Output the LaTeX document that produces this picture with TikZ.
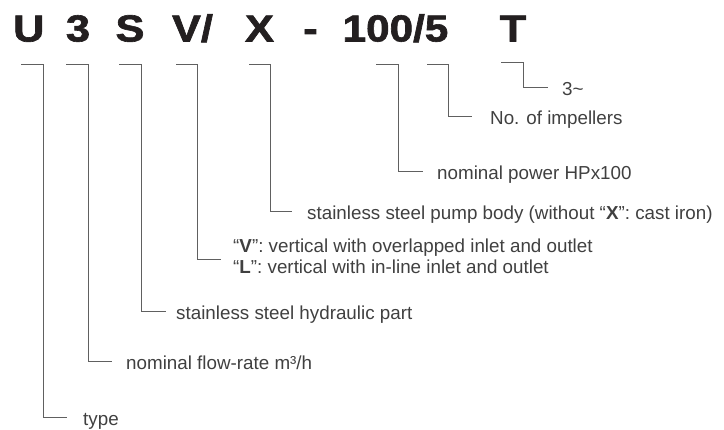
\documentclass[tikz,border=0pt]{standalone}
\usepackage{fontspec}
\setmainfont{Liberation Sans}
\newfontfamily\ttlfont[BoldFeatures={FakeBold=1.6}]{Liberation Sans}
\definecolor{txt}{HTML}{404040}
\definecolor{ttl}{HTML}{231F20}
\definecolor{ln}{HTML}{606060}
\begin{document}
\begin{tikzpicture}[x=1pt,y=-1pt,
  title/.style={anchor=base,inner sep=0pt,font=\fontsize{37.7}{40}\ttlfont\bfseries,text=ttl},
  lab/.style={anchor=base west,inner sep=0pt,font=\fontsize{18.8}{22}\selectfont,text=txt},
  conn/.style={draw=ln,line width=1pt}]
\useasboundingbox (0,0) rectangle (724,430);
% title
\node[title] (tU) at (28.8,41.5) {\scalebox{1.15}[1]{U}};
\node[title] (t3) at (78,41.5) {\scalebox{1.15}[1]{3}};
\node[title] (tS) at (130,41.5) {\scalebox{1.15}[1]{S}};
\node[title] (tV) at (192.5,41.5) {\scalebox{1.15}[1]{V/}};
\node[title] (tX) at (259.5,41.5) {\scalebox{1.15}[1]{X}};
\node[title] (tD) at (310.5,41.5) {\scalebox{1.15}[1]{-}};
\node[title] (tN) at (395.5,41.5) {\scalebox{1.12}[1]{100/5}};
\node[title] (tT) at (513,41.5) {\scalebox{1.15}[1]{T}};
% labels
\node[lab] (lT) at (562,96) {3\textasciitilde};
\node[lab] (l5) at (490,125) {No. of impellers};
\node[lab] (lN) at (437,180) {nominal power HPx100};
\node[lab] (lX) at (307,220) {stainless steel pump body (without “\textbf{X}”: cast iron)};
\node[lab] (lV) at (233,253) {“\textbf{V}”: vertical with overlapped inlet and outlet};
\node[lab] (lL) at (233,274) {“\textbf{L}”: vertical with in-line inlet and outlet};
\node[lab] (lS) at (176,320) {stainless steel hydraulic part};
\node[lab] (l3) at (126,370) {nominal flow-rate m³/h};
\node[lab] (lU) at (83,426) {type};
% connector points
\coordinate (aU) at (21,65);  \coordinate (bU) at (43,65);  \coordinate (eU) at (67,418);
\coordinate (a3) at (66,65);  \coordinate (b3) at (88,65);  \coordinate (e3) at (112,362);
\coordinate (aS) at (119,65); \coordinate (bS) at (141,65); \coordinate (eS) at (166,312);
\coordinate (aV) at (176,65); \coordinate (bV) at (197,65); \coordinate (eV) at (221,260);
\coordinate (aX) at (249,65); \coordinate (bX) at (270,65); \coordinate (eX) at (292,212);
\coordinate (aN) at (376,65); \coordinate (bN) at (398,65); \coordinate (eN) at (423,172);
\coordinate (a5) at (427,65); \coordinate (b5) at (448,65); \coordinate (e5) at (472,117);
\coordinate (aT) at (501,63); \coordinate (bT) at (523,63); \coordinate (eT) at (548,88);
\foreach \k in {U,3,S,V,X,N,5,T}{
  \draw[conn] (a\k) -- (b\k) |- (e\k);
}
\end{tikzpicture}
\end{document}
